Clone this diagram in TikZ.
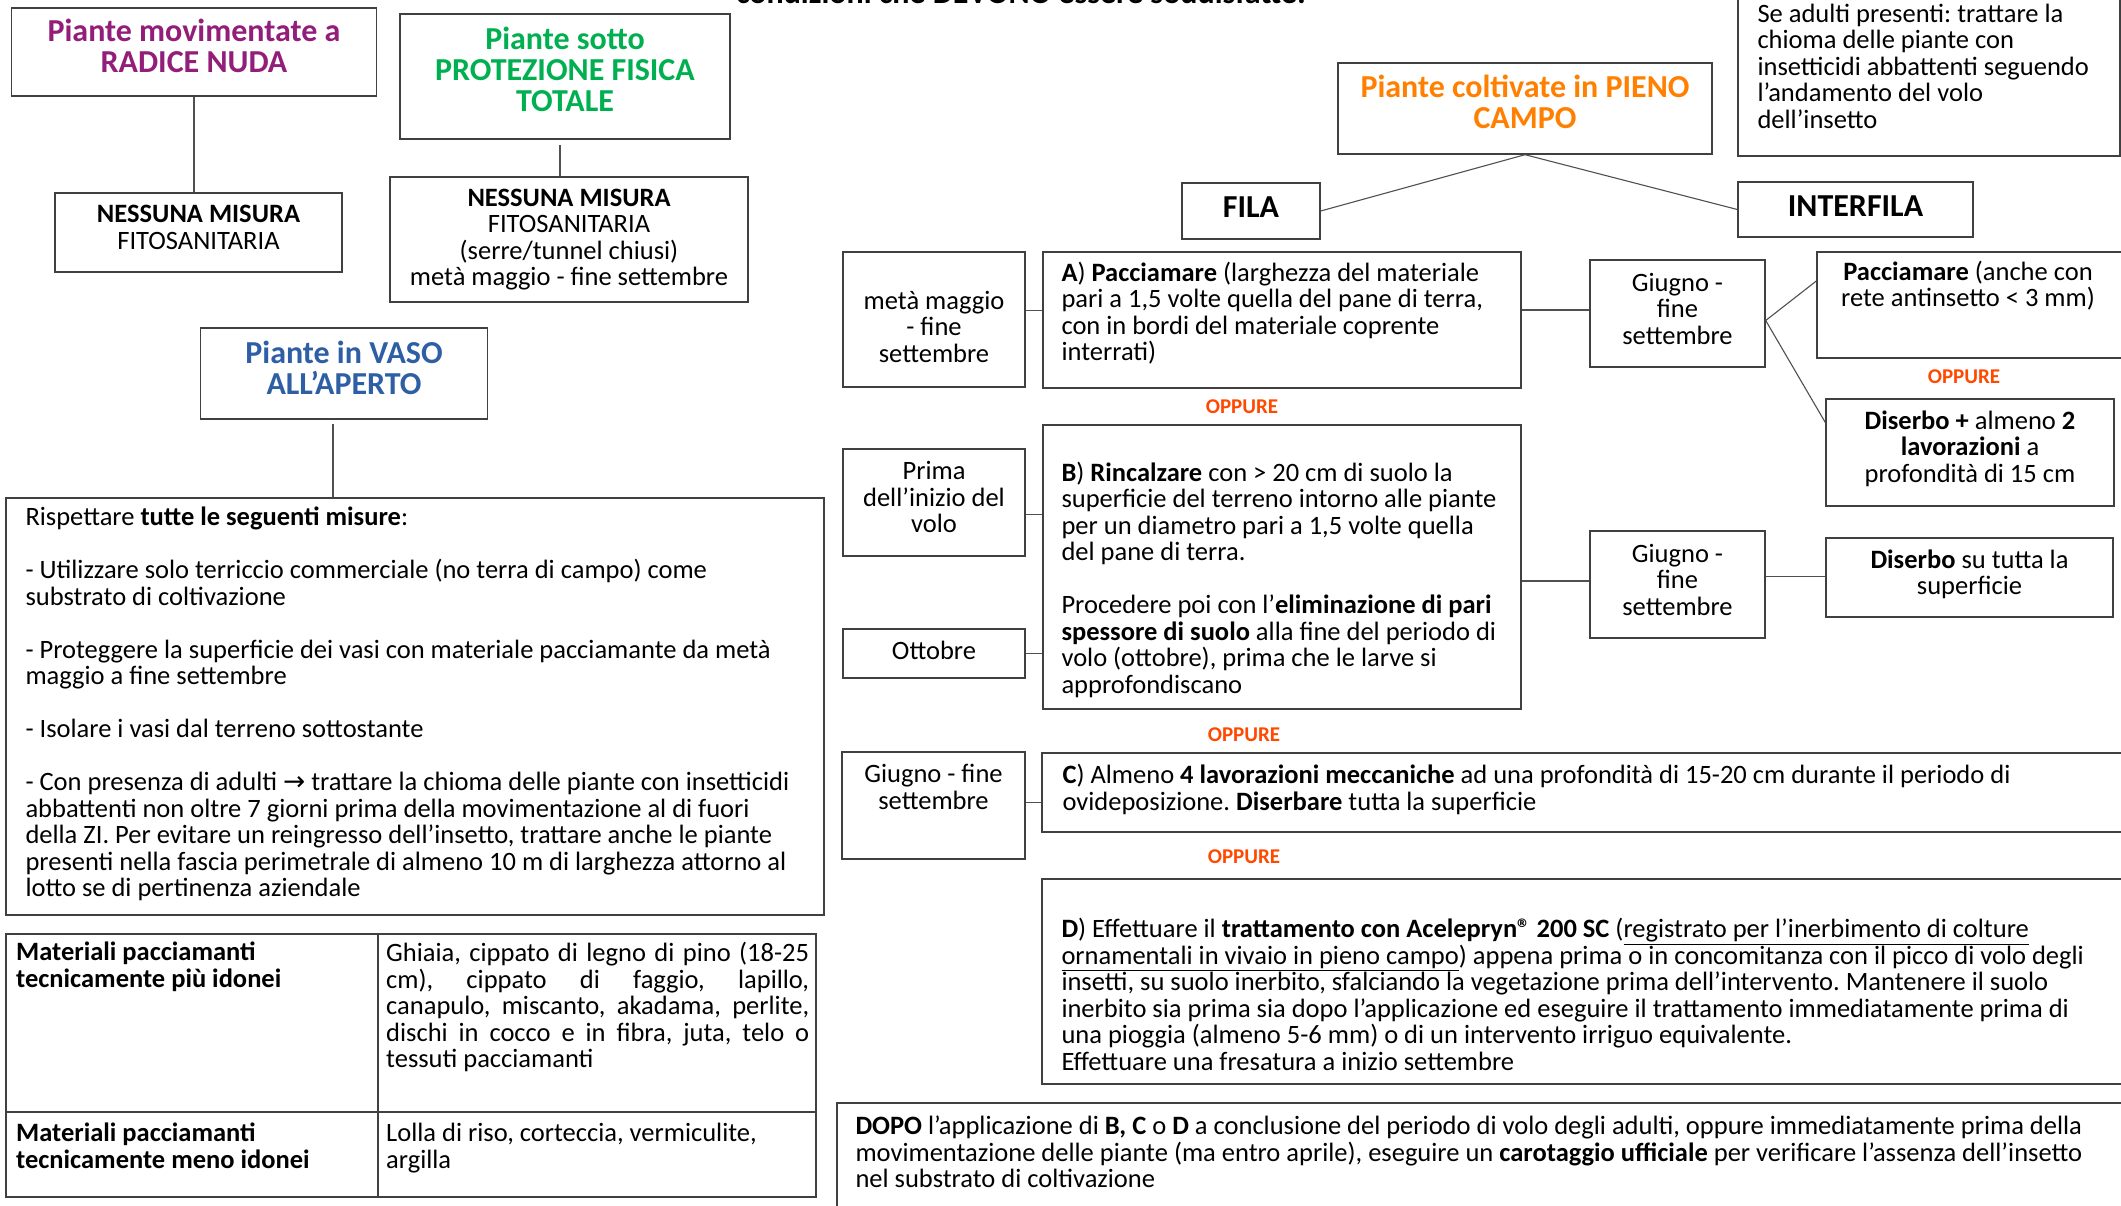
\documentclass[tikz,border=0pt]{standalone}
\usepackage{fontspec}
\setmainfont{Carlito}
\newfontfamily\arrowfont{DejaVu Sans}
\usepackage{tikz}
\lineskiplimit=-30pt

\definecolor{rnpurple}{RGB}{146,30,122}
\definecolor{pfgreen}{RGB}{0,176,80}
\definecolor{vasoblue}{RGB}{46,95,165}
\definecolor{pcorange}{RGB}{255,128,0}
\definecolor{oppred}{RGB}{255,72,0}
\definecolor{boxgray}{RGB}{64,64,64}
\definecolor{linkgray}{RGB}{80,80,80}

\newcommand\bodysize{\fontsize{26.5pt}{26.5pt}\selectfont}
\newcommand\headsize{\fontsize{32pt}{31pt}\selectfont}
\newcommand\oppsize{\fontsize{21pt}{22pt}\selectfont}

\begin{document}
\frenchspacing
\begin{tikzpicture}[x=1pt,y=-1pt,
    box/.style={draw=boxgray,line width=1.4pt,inner sep=0pt},
    txt/.style={inner sep=0pt,align=center,font=\bodysize},
    lefttxt/.style={txt,align=left,anchor=west},
    head/.style={inner sep=0pt,align=center,font=\headsize\bfseries},
    oppure/.style={inner sep=0pt,font=\oppsize\bfseries,text=oppred},
    link/.style={draw=linkgray,line width=1.1pt}]
  \useasboundingbox (0,0) rectangle (2121,1206);
  \fill[white] (0,0) rectangle (2121,1206);
  \clip (0,0) rectangle (2121,1206);

  \node[head,anchor=base] (titolo) at (1021,4) {condizioni che DEVONO essere soddisfatte:};

  % left column
  \node[box,minimum width=365pt,minimum height=88pt] (rn) at (194,52) {};
  \node[head,text=rnpurple] (rntxt) at ([yshift=6.5pt]rn.center) {Piante movimentate a\\RADICE NUDA};
  \node[box,minimum width=287pt,minimum height=79pt] (nm1) at (198.5,232.5) {};
  \node[txt] (nm1txt) at ([yshift=5pt]nm1.center) {\textbf{NESSUNA MISURA}\\FITOSANITARIA};
  \node[box,minimum width=330pt,minimum height=125pt] (pf) at (565,76.5) {};
  \node[head,text=pfgreen] (pftxt) at ([yshift=7.5pt]pf.center) {Piante sotto\\PROTEZIONE FISICA\\TOTALE};
  \node[box,minimum width=358pt,minimum height=125pt] (nm2) at (569,239.5) {};
  \node[txt] (nm2txt) at (nm2.center) {\textbf{NESSUNA MISURA}\\FITOSANITARIA\\(serre/tunnel chiusi)\\metà maggio - fine settembre};
  \node[box,minimum width=287pt,minimum height=91pt] (vaso) at (344,373.5) {};
  \node[head,text=vasoblue] (vasotxt) at ([yshift=6pt]vaso.center) {Piante in VASO\\ALL’APERTO};
  \node[box,minimum width=818pt,minimum height=417pt] (misure) at (415,706.5) {};
  \node[lefttxt] (misuretxt) at ([xshift=20pt,yshift=2.5pt]misure.west) {Rispettare \textbf{tutte le seguenti misure}:\\[26.5pt]
    - Utilizzare solo terriccio commerciale (no terra di campo) come\\
    substrato di coltivazione\\[26.5pt]
    - Proteggere la superficie dei vasi con materiale pacciamante da metà\\
    maggio a fine settembre\\[26.5pt]
    - Isolare i vasi dal terreno sottostante\\[26.5pt]
    - Con presenza di adulti {\arrowfont→} trattare la chioma delle piante con insetticidi\\
    abbattenti non oltre 7 giorni prima della movimentazione al di fuori\\
    della ZI. Per evitare un reingresso dell’insetto, trattare anche le piante\\
    presenti nella fascia perimetrale di almeno 10 m di larghezza attorno al\\
    lotto se di pertinenza aziendale};

  % table of materials
  \draw[draw=boxgray,line width=1.8pt] (6,934) rectangle (816,1197) (378,934) -- (378,1197) (6,1112) -- (816,1112);
  \node[txt,anchor=north west,align=left,font=\bodysize\bfseries] (idonei) at (16,942) {Materiali pacciamanti\\tecnicamente più idonei};
  \node[txt,anchor=north west,text width=423pt,align=justify] (piuelenco) at (386,942) {Ghiaia, cippato di legno di pino (18-25\linebreak
    cm), cippato di faggio, lapillo,\linebreak
    canapulo, miscanto, akadama, perlite,\linebreak
    dischi in cocco e in fibra, juta, telo o\linebreak
    tessuti pacciamanti};
  \node[txt,anchor=north west,align=left,font=\bodysize\bfseries] (menoidonei) at (16,1123) {Materiali pacciamanti\\tecnicamente meno idonei};
  \node[txt,anchor=north west,align=left] (menoelenco) at (386,1123) {Lolla di riso, corteccia, vermiculite,\\argilla};

  % pieno campo
  \node[box,minimum width=374pt,minimum height=91pt] (pc) at (1525,108.5) {};
  \node[head,text=pcorange] (pctxt) at ([yshift=6.5pt]pc.center) {Piante coltivate in PIENO\\CAMPO};
  \node[box,minimum width=382pt,minimum height=180pt] (adulti) at (1929,66) {};
  \node[lefttxt] (adultitxt) at ([xshift=20pt]adulti.west) {Se adulti presenti: trattare la\\chioma delle piante con\\insetticidi abbattenti seguendo\\l’andamento del volo\\dell’insetto};
  \node[box,minimum width=138pt,minimum height=56pt] (fila) at (1251,211) {};
  \node[head] (filatxt) at ([yshift=4pt]fila.center) {FILA};
  \node[box,minimum width=235pt,minimum height=55pt] (interfila) at (1855.5,209.5) {};
  \node[head] (interfilatxt) at ([yshift=3pt]interfila.center) {INTERFILA};

  \node[box,minimum width=182pt,minimum height=135pt] (meta) at (934,319.5) {};
  \node[txt] (metatxt) at ([yshift=-7pt]meta.center) {metà maggio\\- fine\\settembre};
  \node[box,minimum width=478pt,minimum height=136pt] (pacc) at (1282,320) {};
  \node[lefttxt] (pacctxt) at ([xshift=19pt,yshift=7pt]pacc.west) {\textbf{A}) \textbf{Pacciamare} (larghezza del materiale\\pari a 1,5 volte quella del pane di terra,\\con in bordi del materiale coprente\\interrati)};
  \node[box,minimum width=175pt,minimum height=107pt] (giugnoA) at (1677.5,313.5) {};
  \node[txt] (giugnoAtxt) at ([yshift=5pt]giugnoA.center) {Giugno -\\fine\\settembre};
  \node[box,minimum width=307pt,minimum height=106pt] (paccint) at (1970.5,305) {};
  \node[txt] (paccinttxt) at ([xshift=-2.5pt,yshift=19.5pt]paccint.center) {\textbf{Pacciamare} (anche con\\rete antinsetto < 3 mm)};
  \node[oppure] (opp1) at (1964,377) {OPPURE};
  \node[box,minimum width=288pt,minimum height=107pt] (diserbolav) at (1970,452.5) {};
  \node[txt] (diserbolavtxt) at ([yshift=4pt]diserbolav.center) {\textbf{Diserbo +} almeno \textbf{2}\\\textbf{lavorazioni} a\\profondità di 15 cm};

  \node[oppure] (opp2) at (1242,407) {OPPURE};
  \node[box,minimum width=182pt,minimum height=107pt] (prima) at (934,502.5) {};
  \node[txt] (primatxt) at ([yshift=5.5pt]prima.center) {Prima\\dell’inizio del\\volo};
  \node[box,minimum width=478pt,minimum height=284pt] (rinc) at (1282,567) {};
  \node[lefttxt] (rinctxt) at ([xshift=19pt,yshift=-12.5pt]rinc.west) {\textbf{B}) \textbf{Rincalzare} con > 20 cm di suolo la\\
    superficie del terreno intorno alle piante\\
    per un diametro pari a 1,5 volte quella\\
    del pane di terra.\\[26.5pt]
    Procedere poi con l’\textbf{eliminazione di pari}\\
    \textbf{spessore di suolo} alla fine del periodo di\\
    volo (ottobre), prima che le larve si\\
    approfondiscano};
  \node[box,minimum width=182pt,minimum height=49pt] (ottobre) at (934,653.5) {};
  \node[txt] (ottobretxt) at ([yshift=3pt]ottobre.center) {Ottobre};
  \node[box,minimum width=175pt,minimum height=107pt] (giugnoB) at (1677.5,584.5) {};
  \node[txt] (giugnoBtxt) at ([yshift=5pt]giugnoB.center) {Giugno -\\fine\\settembre};
  \node[box,minimum width=287pt,minimum height=79pt] (diserbo) at (1969.5,577.5) {};
  \node[txt] (diserbotxt) at ([yshift=3pt]diserbo.center) {\textbf{Diserbo} su tutta la\\superficie};

  \node[oppure] (opp3) at (1244,735) {OPPURE};
  \node[box,minimum width=183pt,minimum height=107pt] (giugnoC) at (933.5,805.5) {};
  \node[txt] (giugnoCtxt) at ([yshift=18.5pt]giugnoC.center) {Giugno - fine\\settembre};
  \node[box,minimum width=1088pt,minimum height=79pt] (lavor) at (1586,792.5) {};
  \node[lefttxt] (lavortxt) at ([xshift=21pt,yshift=3pt]lavor.west) {\textbf{C}) Almeno \textbf{4 lavorazioni meccaniche} ad una profondità di 15-20 cm durante il periodo di\\ovideposizione. \textbf{Diserbare} tutta la superficie};

  \node[oppure] (opp4) at (1244,857) {OPPURE};
  \node[box,minimum width=1088pt,minimum height=205pt] (acel) at (1586,981.5) {};
  \node[lefttxt] (aceltxt) at ([xshift=20pt,yshift=-13pt]acel.west) {\textbf{D}) Effettuare il \textbf{trattamento con Acelepryn® 200 SC} (\underline{registrato per l’inerbimento di colture}\\
    \underline{ornamentali in vivaio in pieno campo}) appena prima o in concomitanza con il picco di volo degli\\
    insetti, su suolo inerbito, sfalciando la vegetazione prima dell’intervento. Mantenere il suolo\\
    inerbito sia prima sia dopo l’applicazione ed eseguire il trattamento immediatamente prima di\\
    una pioggia (almeno 5-6 mm) o di un intervento irriguo equivalente.\\
    Effettuare una fresatura a inizio settembre};

  \node[box,minimum width=1293pt,minimum height=112pt] (dopo) at (1483.5,1159) {};
  \node[lefttxt] (dopotxt) at ([xshift=19pt,yshift=7pt]dopo.west) {\textbf{DOPO} l’applicazione di \textbf{B, C} o \textbf{D} a conclusione del periodo di volo degli adulti, oppure immediatamente prima della\\
    movimentazione delle piante (ma entro aprile), eseguire un \textbf{carotaggio ufficiale} per verificare l’assenza dell’insetto\\
    nel substrato di coltivazione};

  \path[link]
    (rn.south) edge (rn.south |- nm1.north)
    ([xshift=-5pt,yshift=-5pt]pf.south) edge ([xshift=-5pt]pf.south |- nm2.north)
    ([xshift=-11pt,yshift=-4pt]vaso.south) edge ([xshift=-11pt]vaso.south |- misure.north)
    (pc.south) edge (fila.east)
    (pc.south) edge (interfila.west)
    ([yshift=9pt]meta.east) edge ([yshift=9pt]meta.east -| pacc.west)
    ([yshift=10pt]pacc.east) edge ([yshift=10pt]pacc.east -| giugnoA.west)
    ([yshift=-7pt]giugnoA.east) edge ([yshift=24pt]paccint.west)
    ([yshift=-7pt]giugnoA.east) edge ([yshift=30pt]diserbolav.west)
    ([yshift=-12pt]prima.east) edge ([yshift=-12pt]prima.east -| rinc.west)
    (ottobre.east) edge (ottobre.east -| rinc.west)
    ([yshift=-14pt]rinc.east) edge ([yshift=-14pt]rinc.east -| giugnoB.west)
    ([yshift=8pt]giugnoB.east) edge ([yshift=8pt]giugnoB.east -| diserbo.west)
    ([yshift=3pt]giugnoC.east) edge ([yshift=3pt]giugnoC.east -| lavor.west);
\end{tikzpicture}
\end{document}
